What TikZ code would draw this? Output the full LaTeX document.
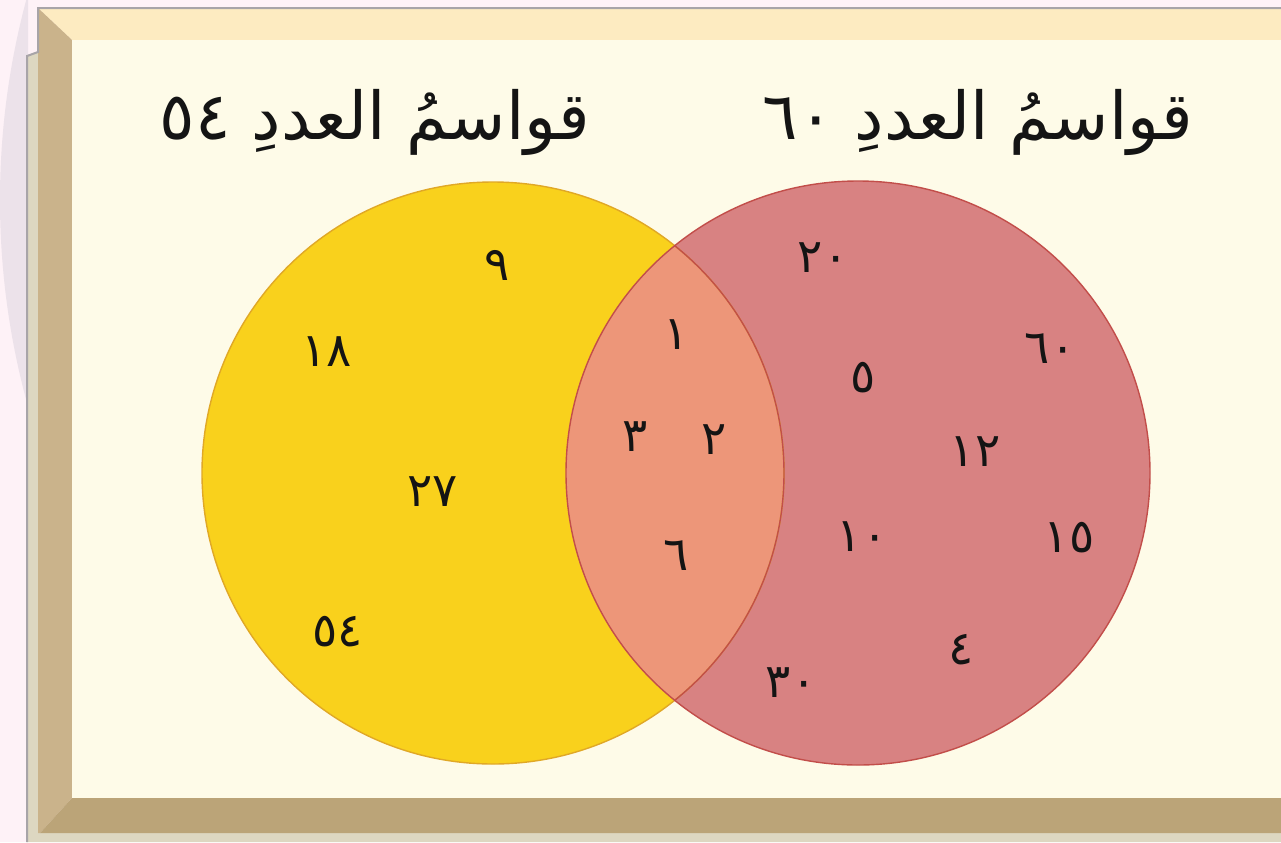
\documentclass[tikz,border=0pt]{standalone}
\usepackage{fontspec}
\newfontfamily\arabicfont[Script=Arabic]{DejaVu Sans}
\TeXXeTstate=1
\definecolor{pagebg}{HTML}{FEF2F7}
\definecolor{lavender}{HTML}{ECE2EA}
\definecolor{bevtop}{HTML}{FDEBC1}
\definecolor{bevleft}{HTML}{CAB38B}
\definecolor{bevbot}{HTML}{BBA478}
\definecolor{sidestrip}{HTML}{DDD7C1}
\definecolor{rim}{HTML}{A8A4A8}
\definecolor{board}{HTML}{FEFBE8}
\definecolor{setA}{HTML}{F9D11C}
\definecolor{setAedge}{HTML}{E0A826}
\definecolor{setB}{HTML}{D88282}
\definecolor{setBedge}{HTML}{C24E4A}
\definecolor{setAB}{HTML}{ED9679}
\tikzset{
  title/.style={font=\arabicfont\fontsize{33}{36}\selectfont, text=black!92, inner sep=0pt},
  num/.style={font=\arabicfont\fontsize{23.5}{26}\selectfont, text=black!92, inner sep=0pt},
}
\begin{document}
\begin{tikzpicture}[x=0.5pt,y=-0.5pt]
\useasboundingbox (0,0) rectangle (1281,842);
% page background with a faint decorative disc on the left
\fill[pagebg] (0,0) rectangle (1281,842);
\begin{scope}
  \clip (0,0) rectangle (28,842);
  \fill[lavender] (770,200) circle (770);
\end{scope}
% raised side and foot of the board
\fill[sidestrip] (27,56) -- (38,52) -- (40,833) -- (1281,833) -- (1281,842) -- (27,842) -- cycle;
% bevelled frame
\fill[bevtop] (38,8) -- (1281,8) -- (1281,40) -- (72,40) -- cycle;
\fill[bevleft] (38,8) -- (72,40) -- (72,798) -- (40,833) -- (38,833) -- cycle;
\fill[bevbot] (72,798) -- (1281,798) -- (1281,833) -- (40,833) -- cycle;
\draw[rim, line width=1pt] (1281,8) -- (38,8) -- (38,52) -- (27,56) -- (27,842);
% writing surface
\fill[board] (72,40) rectangle (1281,798);

% the two sets
\coordinate (cA) at (493,473);
\coordinate (cB) at (858,473);
\fill[setA] (cA) circle (291);
\fill[setB] (cB) circle (292);
\begin{scope}
  \clip (cA) circle (291);
  \fill[setAB] (cB) circle (292);
\end{scope}
\draw[setAedge, line width=0.7pt] (cA) circle (291);
\begin{scope}
  \clip (cB) circle (292);
  \draw[setBedge, line width=0.7pt] (cA) circle (291);
\end{scope}
\draw[setBedge, line width=0.7pt] (cB) circle (292);

% set titles
\node[title] (tA) at (375,122) {\beginR قواسمُ العددِ \beginL٥٤\endL\endR};
\node[title] (tB) at (978,122) {\beginR قواسمُ العددِ \beginL٦٠\endL\endR};

% divisors of 54 only
\node[num] (a9)  at (497,265) {٩};
\node[num] (a18) at (327,352) {١٨};
\node[num] (a27) at (433,492) {٢٧};
\node[num] (a54) at (338,632) {٥٤};
% common divisors
\node[num] (c1) at (676,335) {١};
\node[num] (c3) at (635,437) {٣};
\node[num] (c2) at (714,440) {٢};
\node[num] (c6) at (676,556) {٦};
% divisors of 60 only
\node[num] (b20) at (823,258) {٢٠};
\node[num] (b60) at (1050,349) {٦٠};
\node[num] (b5)  at (863,378) {٥};
\node[num] (b12) at (975,452) {١٢};
\node[num] (b10) at (862,537) {١٠};
\node[num] (b15) at (1069,538) {١٥};
\node[num] (b4)  at (961,650) {٤};
\node[num] (b30) at (791,683) {٣٠};
\end{tikzpicture}
\end{document}
